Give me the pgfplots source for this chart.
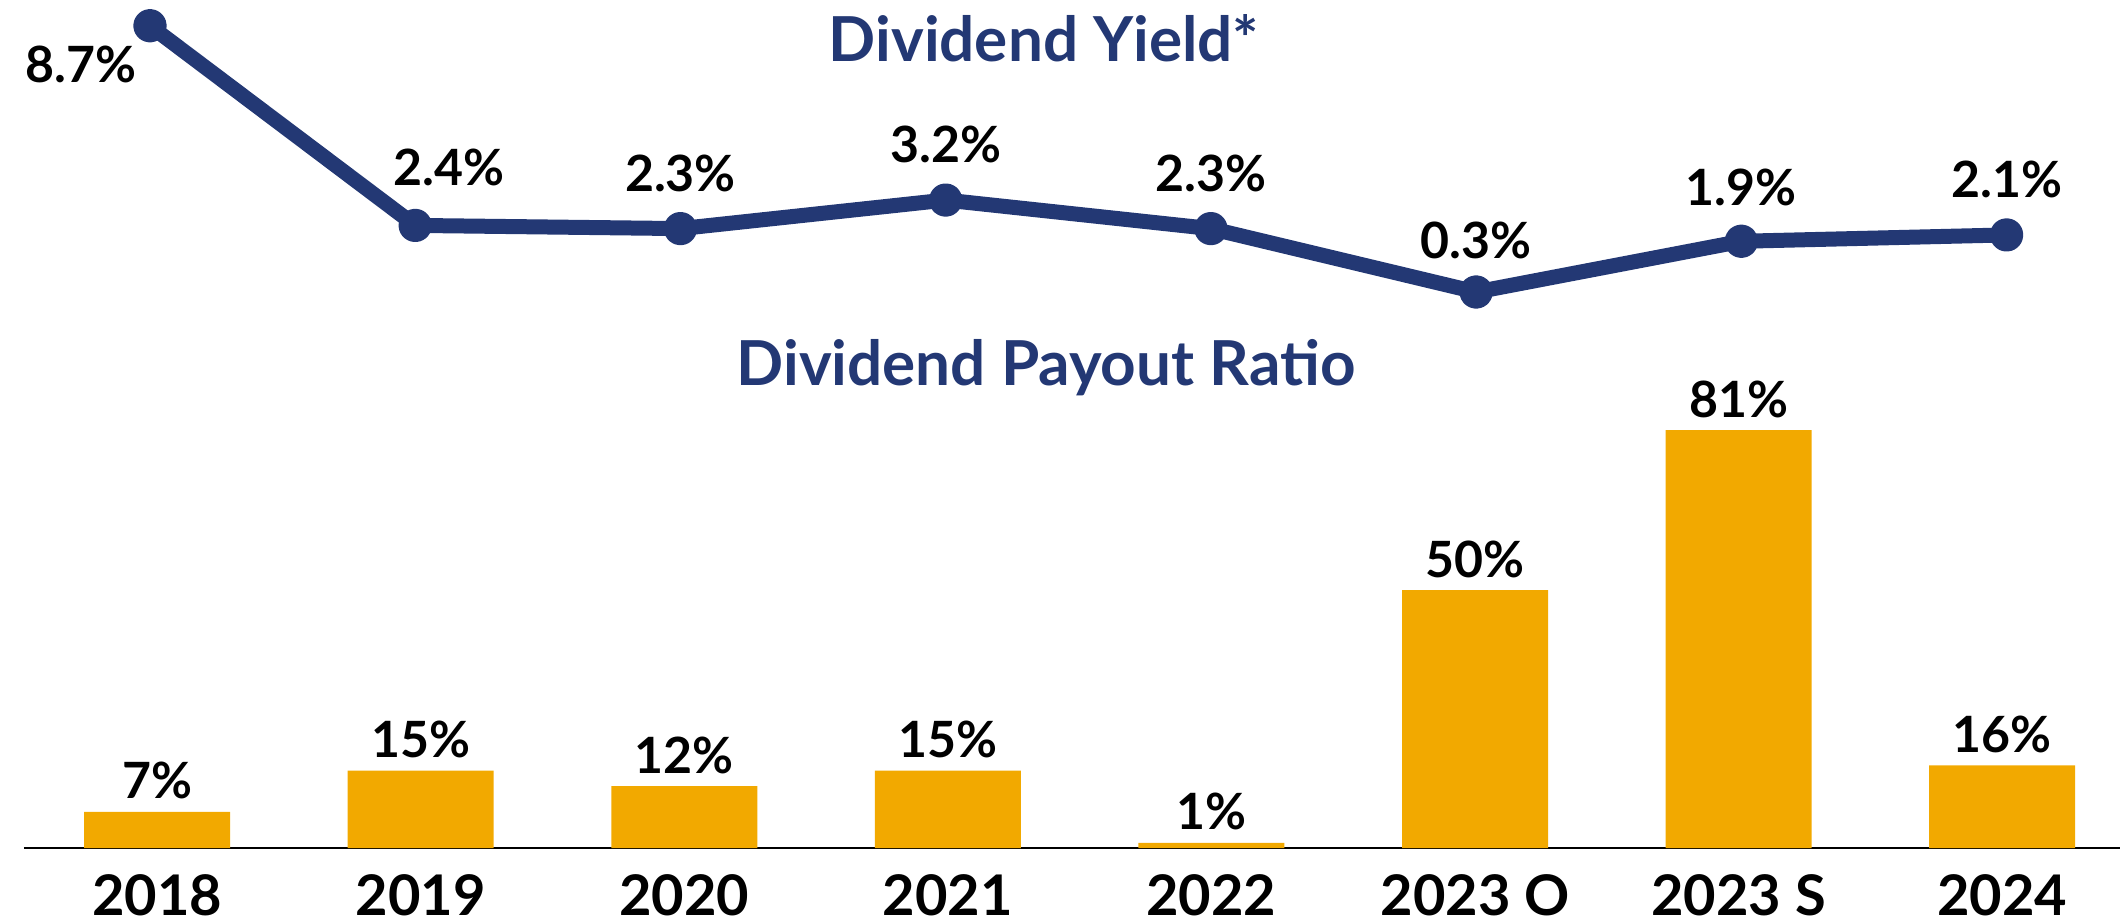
\documentclass[border=0pt]{standalone}
\usepackage{fontspec}
\setmainfont{Lato}
\usepackage{pgfplots}
\pgfplotsset{compat=1.18}
\definecolor{navy}{HTML}{233874}
\definecolor{gold}{HTML}{F2A900}

\begin{document}
\begin{tikzpicture}
% payout ratio (bars)
\begin{axis}[
    at={(12pt,-424pt)}, anchor=south west,
    scale only axis, width=1048pt, height=258pt,
    xmin=-0.505, xmax=7.447, ymin=0, ymax=100,
    axis x line*=bottom, axis y line=none,
    x axis line style={-, black, line width=1pt},
    xtick={0,...,7},
    xticklabels={2018,2019,2020,2021,2022,2023 O,2023 S,2024},
    ytick=\empty,
    major tick length=0pt,
    xticklabel style={font=\fontsize{28}{30}\selectfont\bfseries, anchor=center, yshift=-23.5pt},
    /pgf/number format/assume math mode=true,
    clip=false,
]
\addplot[ybar, fill=gold, draw=none, bar width=0.554,
    nodes near coords={\pgfmathprintnumber{\pgfplotspointmeta}\%},
    every node near coord/.append style={anchor=center, yshift=15.5pt, text=black,
        font=\fontsize{25}{27}\selectfont\bfseries}]
coordinates {(0,7) (1,15) (2,12) (3,15) (4,1) (5,50) (6,81) (7,16)};
\end{axis}

% dividend yield (line)
\begin{axis}[
    at={(12pt,-150.75pt)}, anchor=south west,
    scale only axis, width=1048pt, height=142.65pt,
    xmin=-0.475, xmax=7.428, ymin=0, ymax=9,
    hide axis, clip=false,
    /pgf/number format/assume math mode=true,
]
\addplot[navy, line width=7.5pt, line join=round, line cap=round,
    mark=*, mark size=4.6pt, mark options={draw=none, fill=navy},
    visualization depends on=value \thisrow{dx}\as\dx,
    visualization depends on=value \thisrow{dy}\as\dy,
    nodes near coords={\pgfmathprintnumber[fixed,precision=1,fixed zerofill]{\pgfplotspointmeta}\%},
    every node near coord/.append style={anchor=center, xshift=\dx pt, yshift=\dy pt,
        text=black, font=\fontsize{25}{27}\selectfont\bfseries}]
table {
x y dx dy
0 8.7 -34.5 -19.6
1 2.4 17 29
2 2.3 0 27.5
3 3.2 0 28
4 2.3 0 27.5
5 0.3 0 26
6 1.9 0 27
7 2.1 0 27.5
};
\end{axis}

\node[navy, font=\fontsize{31}{33}\selectfont\bfseries, anchor=base] at (522pt,-31pt) {Dividend Yield*};
\node[navy, font=\fontsize{31}{33}\selectfont\bfseries, anchor=base] at (523pt,-192.7pt) {Dividend Payout Ratio};

\pgfresetboundingbox
\path (0pt,0pt) rectangle (1060pt,-462pt);
\end{tikzpicture}
\end{document}
